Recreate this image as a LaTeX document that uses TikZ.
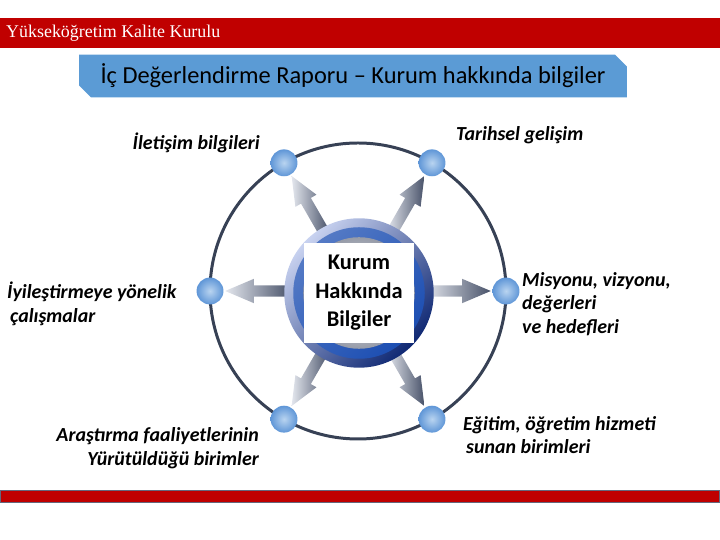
\documentclass[tikz,border=0pt]{standalone}
\usepackage{fontspec}
\setmainfont{Carlito}
\newfontfamily\headfont{Liberation Serif}
\usetikzlibrary{positioning,calc,shapes.arrows,shapes.misc}
\definecolor{ykkred}{RGB}{192,0,0}
\definecolor{barframe}{RGB}{100,104,125}
\definecolor{titleblue}{RGB}{91,155,213}
\definecolor{orbit}{RGB}{55,65,85}
\definecolor{ballblue}{RGB}{95,150,215}
\definecolor{ballhi}{RGB}{185,212,240}
\definecolor{arrowdark}{RGB}{72,82,105}
\definecolor{arrowlight}{RGB}{228,231,238}
\definecolor{ringlight}{RGB}{200,210,240}
\definecolor{ringdark}{RGB}{15,40,115}
\definecolor{ringblue}{RGB}{28,78,178}
\definecolor{hubgray}{RGB}{150,155,168}
\tikzset{
  ball/.style={circle,inner color=ballhi,outer color=ballblue,minimum size=27pt,inner sep=0pt},
  spoke/.style={single arrow,left color=arrowlight,right color=arrowdark,draw=none,minimum height=66pt,inner xsep=0pt,inner ysep=5.5pt,single arrow head extend=6.5pt,single arrow tip angle=46},
  topic/.style={font=\fontsize{20}{23.5}\selectfont\bfseries\itshape,inner sep=0pt},
  hubtext/.style={fill=white,minimum width=110pt,minimum height=100pt,align=center,font=\fontsize{22.5}{28.5}\selectfont\bfseries}
}
\begin{document}
\begin{tikzpicture}[x=1bp,y=1bp]
  \useasboundingbox (0,0) rectangle (720,540);

  % header and footer bars
  \fill[ykkred] (0,492) rectangle (720,522);
  \node[anchor=west,inner sep=0pt,text=white,font=\headfont\fontsize{18}{20}\selectfont] (kurul) at (6,507) {Yükseköğretim Kalite Kurulu};
  \draw[barframe,fill=ykkred,line width=1pt] (0.5,37) rectangle (719.5,49);

  \node[chamfered rectangle,chamfered rectangle corners={north east,south west},chamfered rectangle xsep=6pt,chamfered rectangle ysep=6pt,fill=titleblue,minimum width=550pt,minimum height=43pt,inner sep=0pt,font=\fontsize{24.5}{26}\selectfont] (title) at (353,464) {İç Değerlendirme Raporu -- Kurum hakkında bilgiler};

  % orbit with the six topics
  \coordinate (O) at (358,249);
  \draw[orbit,line width=3pt] (O) circle[radius=148];
  \foreach \a/\n in {0/mis,60/tar,120/ile,180/iyi,240/ara,300/egi}
    \node[ball] (\n) at ($(O)+(\a:148)$) {};
  \foreach \a/\n in {0/mis,60/tar,120/ile,180/iyi,240/ara,300/egi}
    \node[spoke,rotate=\a] (sp\n) at ($(O)!0.63!(\n)$) {};

  % hub
  \node[circle,minimum size=150pt,top color=ringlight,bottom color=ringdark,shading angle=45] (hub) at ($(O)+(1,-2)$) {};
  \node[circle,minimum size=132pt,top color=ringblue!75,bottom color=ringblue,shading angle=45] (ring) at (hub) {};
  \node[circle,minimum size=112pt,inner color=white,outer color=hubgray] (disk) at (hub) {};
  \node[hubtext] (kurum) at (hub) {Kurum\\Hakkında\\Bilgiler};

  % labels
  \node[topic,anchor=east] (lile) at (260,397) {İletişim bilgileri};
  \node[topic,anchor=west] (ltar) at (456,405) {Tarihsel gelişim};
  \node[topic,anchor=west,align=left] (liyi) at (7,236) {İyileştirmeye yönelik\\\hspace{3pt}çalışmalar};
  \node[topic,anchor=west,align=left] (lmis) at (522,236) {Misyonu, vizyonu,\\değerleri\\ve hedefleri};
  \node[topic,anchor=east,align=right] (lara) at (259,92) {Araştırma faaliyetlerinin\\Yürütüldüğü birimler};
  \node[topic,anchor=west,align=left] (legi) at (463,105) {Eğitim, öğretim hizmeti\\\hspace{3pt}sunan birimleri};
\end{tikzpicture}
\end{document}
